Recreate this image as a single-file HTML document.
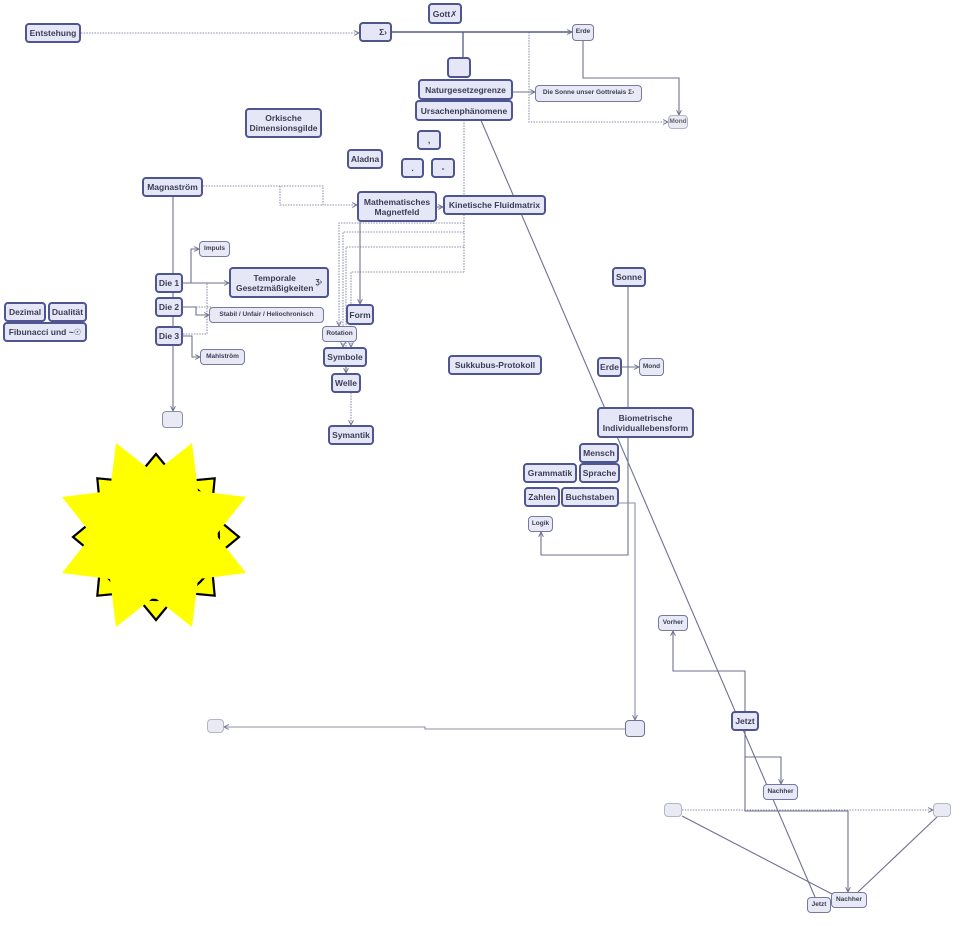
<!DOCTYPE html>
<html><head><meta charset="utf-8">
<style>
html,body{margin:0;padding:0;background:#fff;}
body{width:962px;height:925px;position:relative;overflow:hidden;font-family:"Liberation Sans","DejaVu Sans",sans-serif;}
svg{position:absolute;left:0;top:0;}
.n{position:absolute;box-sizing:border-box;background:#e5e7f6;border:2px solid #4f5590;border-radius:4px;color:#3a3d56;font-weight:bold;font-size:8.5px;line-height:10px;display:flex;align-items:center;justify-content:center;text-align:center;white-space:nowrap;}
.s{border:1.5px solid #7479a3;font-size:6.5px;line-height:1;background:#e8e9f5;}
.e{border:1px solid #b3b5c8;background:#e9eaf3;}
</style></head><body>
<svg width="962" height="925" viewBox="0 0 962 925">
<defs>
<marker id="a" viewBox="0 0 10 10" refX="9" refY="5" markerWidth="6" markerHeight="6" orient="auto" markerUnits="userSpaceOnUse"><path d="M1,1 L9,5 L1,9" fill="none" stroke="#6e7191" stroke-width="1.6"/></marker>
</defs>
<g fill="none" stroke="#6e7191" stroke-width="1.1">
<g stroke="#8c8fac" stroke-dasharray="1.5 1.2">
<path d="M81,33 H359" marker-end="url(#a)"/>
<path d="M529,32 V122 H668" marker-end="url(#a)"/>
<path d="M203,186 H323 V205 H357" marker-end="url(#a)"/>
<path d="M280,186 V205 H323"/>
<path d="M183,334 H207 V283 H225"/>
<path d="M196,307 H212"/>
<path d="M464,120 V272"/>
<path d="M464,223 H339 V326" marker-end="url(#a)"/>
<path d="M464,232 H343 V347" marker-end="url(#a)"/>
<path d="M464,247 H346 V347"/>
<path d="M464,272 H351 V347" marker-end="url(#a)"/>
<path d="M351,393 V425" marker-end="url(#a)"/>
<path d="M682,810 H933" marker-end="url(#a)"/>
</g>
<path d="M392,32 H572" stroke="#555a86" stroke-width="1.5" marker-end="url(#a)"/>
<path d="M463,32 V57" stroke="#555a86" stroke-width="1.3"/>
<path d="M513,92 H535" marker-end="url(#a)"/>
<path d="M583,41 V78 H679 V115" marker-end="url(#a)"/>
<path d="M173,196 V411" marker-end="url(#a)"/>
<path d="M183,283 H191 V249 H199" marker-end="url(#a)"/>
<path d="M183,283 H229" marker-end="url(#a)"/>
<path d="M183,307 H196 V315 H209" marker-end="url(#a)"/>
<path d="M183,336 H192 V357 H200" marker-end="url(#a)"/>
<path d="M437,207 H443" marker-end="url(#a)"/>
<path d="M360,222 V304" marker-end="url(#a)"/>
<path d="M346,367 V373" marker-end="url(#a)"/>
<path d="M480,118 L815,897"/>
<path d="M628,287 V555 H541 V532" marker-end="url(#a)"/>
<path d="M622,367 H639" marker-end="url(#a)"/>
<path d="M619,503 H635 V720" stroke="#8c8fac" marker-end="url(#a)"/>
<path d="M625,729 H425 V727 H224" stroke="#8c8fac" marker-end="url(#a)"/>
<path d="M745,711 V671 H673 V631" marker-end="url(#a)"/>
<path d="M745,731 V757 H781 V784" marker-end="url(#a)"/>
<path d="M745,757 V811 H848 V892" marker-end="url(#a)"/>
<path d="M682,816 L832,894"/>
<path d="M937,817 L858,892"/>
</g>
<g stroke="#000" stroke-width="2.2" fill="#ffff00" stroke-linejoin="miter">
<polygon points="156,454 137,477 175,477" transform="rotate(0 156 537)"/>
<polygon points="156,454 137,477 175,477" transform="rotate(45 156 537)"/>
<polygon points="156,454 137,477 175,477" transform="rotate(90 156 537)"/>
<polygon points="156,454 137,477 175,477" transform="rotate(135 156 537)"/>
<polygon points="156,454 137,477 175,477" transform="rotate(180 156 537)"/>
<polygon points="156,454 137,477 175,477" transform="rotate(225 156 537)"/>
<polygon points="156,454 137,477 175,477" transform="rotate(270 156 537)"/>
<polygon points="156,454 137,477 175,477" transform="rotate(315 156 537)"/>
<circle cx="156" cy="537" r="63"/>
</g>
<polygon fill="#ffff00" points="116,443 154,473 192,443 198,491 246,497 216,535 246,573 198,579 192,627 154,597 116,627 110,579 62,573 92,535 62,497 110,491"/>
</svg>

<div class="n" style="left:25px;top:23px;width:56px;height:20px;">Entstehung</div>
<div class="n" style="left:359px;top:22px;width:33px;height:20px;justify-content:flex-end;padding-right:3px;">Σ›</div>
<div class="n" style="left:428px;top:3px;width:34px;height:21px;">Gott✗</div>
<div class="n" style="left:447px;top:57px;width:24px;height:21px;"></div>
<div class="n" style="left:418px;top:79px;width:95px;height:21px;">Naturgesetzegrenze</div>
<div class="n" style="left:415px;top:100px;width:98px;height:21px;">Ursachenphänomene</div>
<div class="n s" style="left:535px;top:85px;width:107px;height:17px;">Die Sonne unser Gottrelais Σ›</div>
<div class="n s" style="left:572px;top:24px;width:22px;height:17px;">Erde</div>
<div class="n s e" style="left:668px;top:115px;width:20px;height:14px;color:#666;">Mond</div>
<div class="n" style="left:245px;top:108px;width:77px;height:30px;">Orkische<br>Dimensionsgilde</div>
<div class="n" style="left:417px;top:130px;width:24px;height:20px;">,</div>
<div class="n" style="left:401px;top:158px;width:23px;height:20px;">.</div>
<div class="n" style="left:431px;top:158px;width:24px;height:20px;">-</div>
<div class="n" style="left:347px;top:149px;width:36px;height:20px;">Aladna</div>
<div class="n" style="left:357px;top:191px;width:80px;height:31px;">Mathematisches<br>Magnetfeld</div>
<div class="n" style="left:443px;top:195px;width:103px;height:20px;">Kinetische Fluidmatrix</div>
<div class="n" style="left:142px;top:177px;width:61px;height:20px;">Magnaström</div>
<div class="n s" style="left:199px;top:241px;width:31px;height:16px;">Impuls</div>
<div class="n" style="left:229px;top:267px;width:100px;height:31px;">Temporale<br>Gesetzmäßigkeiten <span style="font-size:7px;margin-left:2px;">Ʒ›</span></div>
<div class="n" style="left:155px;top:273px;width:28px;height:20px;">Die 1</div>
<div class="n" style="left:155px;top:297px;width:28px;height:20px;">Die 2</div>
<div class="n" style="left:155px;top:326px;width:28px;height:20px;">Die 3</div>
<div class="n s" style="left:209px;top:307px;width:115px;height:16px;">Stabil / Unfair / Heliochronisch</div>
<div class="n s" style="left:200px;top:349px;width:45px;height:16px;">Mahlström</div>
<div class="n e" style="left:162px;top:411px;width:21px;height:17px;border-color:#8c8fac;"></div>
<div class="n" style="left:346px;top:304px;width:28px;height:21px;">Form</div>
<div class="n s" style="left:322px;top:326px;width:35px;height:16px;">Rotation</div>
<div class="n" style="left:323px;top:347px;width:44px;height:20px;">Symbole</div>
<div class="n" style="left:331px;top:373px;width:30px;height:20px;">Welle</div>
<div class="n" style="left:328px;top:425px;width:46px;height:20px;">Symantik</div>
<div class="n" style="left:448px;top:355px;width:94px;height:20px;">Sukkubus-Protokoll</div>
<div class="n" style="left:4px;top:302px;width:42px;height:20px;">Dezimal</div>
<div class="n" style="left:48px;top:302px;width:39px;height:20px;">Dualität</div>
<div class="n" style="left:3px;top:322px;width:84px;height:20px;">Fibunacci und ~☉</div>
<div class="n" style="left:612px;top:267px;width:34px;height:20px;">Sonne</div>
<div class="n" style="left:597px;top:357px;width:25px;height:20px;">Erde</div>
<div class="n s" style="left:639px;top:358px;width:25px;height:18px;">Mond</div>
<div class="n" style="left:597px;top:407px;width:97px;height:31px;">Biometrische<br>Individuallebensform</div>
<div class="n" style="left:579px;top:443px;width:40px;height:20px;">Mensch</div>
<div class="n" style="left:523px;top:463px;width:54px;height:20px;">Grammatik</div>
<div class="n" style="left:579px;top:463px;width:41px;height:20px;">Sprache</div>
<div class="n" style="left:524px;top:487px;width:36px;height:20px;">Zahlen</div>
<div class="n" style="left:561px;top:487px;width:58px;height:20px;">Buchstaben</div>
<div class="n s" style="left:528px;top:516px;width:25px;height:16px;">Logik</div>
<div class="n" style="left:625px;top:720px;width:20px;height:17px;border-width:1.5px;border-color:#6e7191;"></div>
<div class="n e" style="left:207px;top:719px;width:17px;height:14px;"></div>
<div class="n s" style="left:658px;top:615px;width:30px;height:16px;">Vorher</div>
<div class="n" style="left:731px;top:711px;width:28px;height:20px;">Jetzt</div>
<div class="n s" style="left:763px;top:784px;width:35px;height:16px;">Nachher</div>
<div class="n e" style="left:664px;top:803px;width:18px;height:14px;"></div>
<div class="n e" style="left:933px;top:803px;width:18px;height:14px;"></div>
<div class="n s" style="left:807px;top:897px;width:24px;height:16px;">Jetzt</div>
<div class="n s" style="left:831px;top:892px;width:36px;height:16px;">Nachher</div>
</body></html>
